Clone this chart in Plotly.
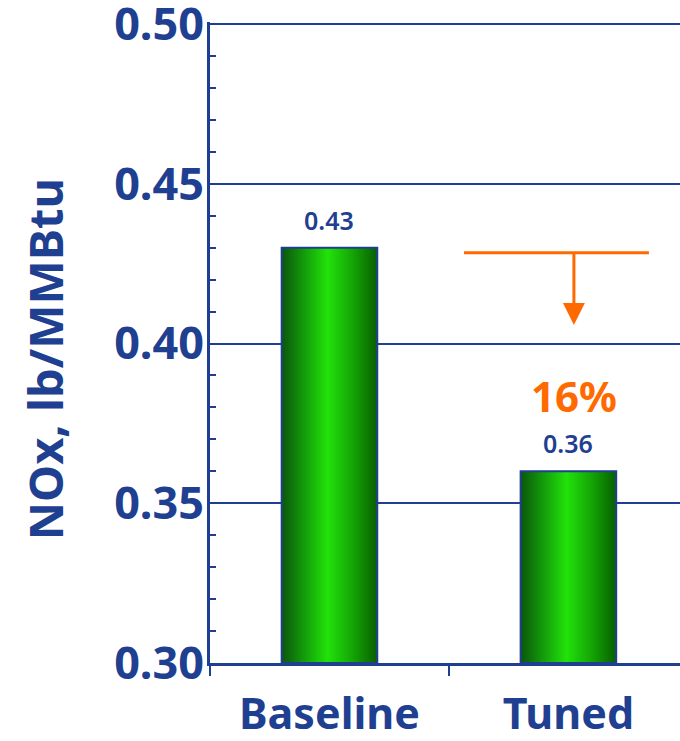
import plotly.graph_objects as go

# Data
categories = ["Baseline", "Tuned"]
nox_values = [0.43, 0.36]
y_ticks = [0.30, 0.35, 0.40, 0.45, 0.50]
y_tick_labels = ["0.30", "0.35", "0.40", "0.45", "0.50"]

NAVY = "#1f4091"
ORANGE = "#ff6a00"
FONT = "Noto Sans"
BAR_HALF = 0.2
Y_MIN, Y_MAX = 0.30, 0.50

fig = go.Figure()

# Bars drawn as filled polygons so they can carry a horizontal gradient
for i, (cat, v) in enumerate(zip(categories, nox_values)):
    fig.add_trace(go.Scatter(
        x=[i - BAR_HALF, i + BAR_HALF, i + BAR_HALF, i - BAR_HALF, i - BAR_HALF],
        y=[Y_MIN, Y_MIN, v, v, Y_MIN],
        mode="lines",
        fill="toself",
        fillgradient=dict(
            type="horizontal",
            colorscale=[[0.0, "#0b560c"], [0.25, "#14a00a"], [0.48, "#22e20a"],
                        [0.75, "#14a305"], [1.0, "#075f00"]],
        ),
        line=dict(color=NAVY, width=2),
        name=cat,
        hoverinfo="skip",
        showlegend=False,
    ))
    fig.add_annotation(
        x=i, y=v, text=f"{v:.2f}", showarrow=False,
        yanchor="bottom", yshift=9,
        font=dict(family=FONT, size=25, color=NAVY, weight=600),
    )

# Reduction arrow and percentage
reduction = (nox_values[0] - nox_values[1]) / nox_values[0]
arrow_y = 0.4284
arrow_tip = 0.4058
arrow_x = 1.023
fig.add_shape(type="line", x0=0.563, x1=1.337, y0=arrow_y, y1=arrow_y,
              line=dict(color=ORANGE, width=3))
fig.add_shape(type="line", x0=arrow_x, x1=arrow_x, y0=arrow_y, y1=0.4125,
              line=dict(color=ORANGE, width=3))
fig.add_shape(
    type="path",
    path=(f"M {arrow_x - 0.046} 0.4127 L {arrow_x + 0.046} 0.4127 "
          f"L {arrow_x} {arrow_tip} Z"),
    fillcolor=ORANGE, line=dict(color=ORANGE, width=0),
)
fig.add_annotation(
    x=arrow_x, y=0.3836, text=f"{reduction:.0%}", showarrow=False,
    font=dict(family=FONT, size=42, color=ORANGE, weight="bold"),
)

# Axis title
fig.add_annotation(
    x=-0.351, y=0.474, xref="paper", yref="paper",
    xanchor="center", yanchor="middle",
    text="NOx, lb/MMBtu", textangle=-90, showarrow=False,
    font=dict(family=FONT, size=47, color=NAVY, weight="bold"),
)

fig.update_layout(
    width=680, height=741,
    margin=dict(l=210, r=0, t=22, b=78),
    paper_bgcolor="white", plot_bgcolor="white",
    showlegend=False,
    font=dict(family=FONT, color=NAVY),
)

fig.update_xaxes(
    range=[-0.5, 1.467],
    tickvals=list(range(len(categories))), ticktext=categories,
    ticks="", ticklabelstandoff=11,
    tickfont=dict(family=FONT, size=43, color=NAVY, weight="bold"),
    showgrid=False, zeroline=False, automargin=False,
    showline=True, linecolor=NAVY, linewidth=3,
    minor=dict(tickmode="linear", tick0=-0.5, dtick=1, ticks="outside",
               ticklen=10, tickwidth=2, tickcolor=NAVY, showgrid=False),
)

fig.update_yaxes(
    range=[Y_MIN - 1e-6, Y_MAX + 0.000626],
    tickvals=y_ticks, ticktext=y_tick_labels,
    ticks="inside", ticklen=6, tickwidth=2, tickcolor=NAVY,
    tickfont=dict(family=FONT, size=45, color=NAVY, weight="bold"),
    ticklabelstandoff=-6, ticklabeloverflow="allow",
    showgrid=True, gridcolor=NAVY, gridwidth=2,
    zeroline=False, automargin=False,
    showline=True, linecolor=NAVY, linewidth=3,
    minor=dict(tickmode="linear", tick0=0.30, dtick=0.01, ticks="inside",
               ticklen=6, tickwidth=2, tickcolor=NAVY, showgrid=False),
)

fig.write_html("out.html")
